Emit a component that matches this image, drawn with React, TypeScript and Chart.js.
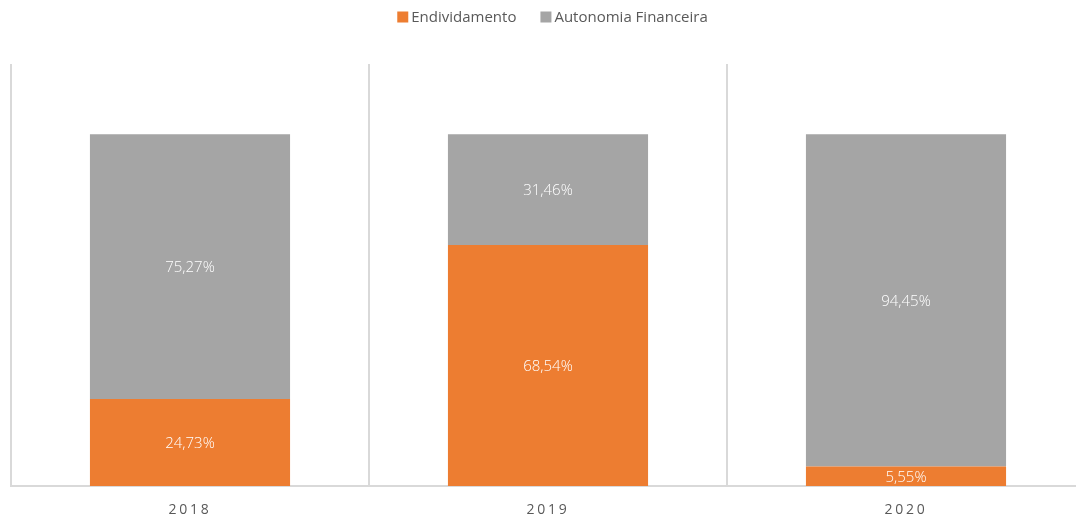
import React, { useEffect, useRef } from "react";
import { Chart, registerables } from "chart.js";

Chart.register(...registerables);

const categories = ["2018", "2019", "2020"];
const endividamento = [24.73, 68.54, 5.55];
const autonomia = [75.27, 31.46, 94.45];
const seriesNames = ["Endividamento", "Autonomia Financeira"];
const seriesColors = ["#ED7D31", "#A5A5A5"];
const yMax = 120;

const FONT = "'Open Sans', 'Noto Sans', sans-serif";
const TEXT_COLOR = "#595959";

const fmt = (v: number) => v.toFixed(2).replace(".", ",") + "%";

const valueLabels = {
  id: "valueLabels",
  afterDatasetsDraw(chart: any) {
    const ctx = chart.ctx;
    ctx.save();
    ctx.fillStyle = "#FFFFFF";
    ctx.font = `300 15px ${FONT}`;
    ctx.textAlign = "center";
    ctx.textBaseline = "middle";
    chart.data.datasets.forEach((ds: any, di: number) => {
      const meta = chart.getDatasetMeta(di);
      meta.data.forEach((el: any, i: number) => {
        const v = ds.data[i];
        const cy = (el.y + el.base) / 2;
        ctx.fillText(fmt(v), el.x, cy + 1.5);
      });
    });
    ctx.restore();
    // letter spacing for the x tick labels drawn in the next layer
    (ctx as any).letterSpacing = "2.7px";
  },
  afterDraw(chart: any) {
    const ctx = chart.ctx;
    (ctx as any).letterSpacing = "0px";
    // legend
    ctx.save();
    ctx.font = `15px ${FONT}`;
    ctx.textBaseline = "middle";
    ctx.textAlign = "left";
    const box = 11;
    const gap = 3;
    const spacing = 24;
    const items = chart.data.datasets.map((ds: any) => ({
      label: ds.label,
      color: ds.backgroundColor,
      w: box + gap + ctx.measureText(ds.label).width,
    }));
    const total = items.reduce((s: number, it: any) => s + it.w, 0) + spacing * (items.length - 1);
    let x = chart.width / 2 - total / 2;
    const cy = 17;
    items.forEach((it: any) => {
      ctx.fillStyle = it.color;
      ctx.fillRect(x, cy - box / 2, box, box);
      ctx.fillStyle = TEXT_COLOR;
      ctx.fillText(it.label, x + box + gap, cy + 1);
      x += it.w + spacing;
    });
    ctx.restore();
  },
};

export default function App() {
  const ref = useRef<HTMLCanvasElement | null>(null);

  useEffect(() => {
    if (!ref.current) return;
    const chart = new Chart(ref.current, {
      type: "bar",
      data: {
        labels: categories,
        datasets: [
          {
            label: seriesNames[0],
            data: endividamento,
            backgroundColor: seriesColors[0],
            categoryPercentage: 1,
            barPercentage: 0.559,
          },
          {
            label: seriesNames[1],
            data: autonomia,
            backgroundColor: seriesColors[1],
            categoryPercentage: 1,
            barPercentage: 0.559,
          },
        ],
      },
      options: {
        responsive: false,
        animation: false,
        devicePixelRatio: 1,
        layout: { padding: { top: 64, left: 11, right: 20, bottom: 0 } },
        plugins: {
          legend: { display: false },
          tooltip: { enabled: false },
          title: { display: false },
        },
        scales: {
          x: {
            stacked: true,
            afterFit(scale: any) {
              scale.height = 33;
            },
            grid: {
              display: true,
              offset: true,
              color: "#D9D9D9",
              lineWidth: 2,
              drawTicks: false,
            },
            border: { display: true, color: "#D9D9D9", width: 2 },
            ticks: {
              color: TEXT_COLOR,
              font: { family: FONT, size: 14 },
              padding: 16,
              z: 1,
            },
          },
          y: {
            stacked: true,
            display: false,
            min: 0,
            max: yMax,
          },
        },
      },
      plugins: [valueLabels],
    });
    return () => chart.destroy();
  }, []);

  return (
    <div
      style={{
        position: "fixed",
        left: 0,
        top: 0,
        width: 1076,
        height: 519,
        overflow: "hidden",
        background: "#FFFFFF",
      }}
    >
      <canvas ref={ref} width={1105} height={519} style={{ display: "block" }} />
    </div>
  );
}
